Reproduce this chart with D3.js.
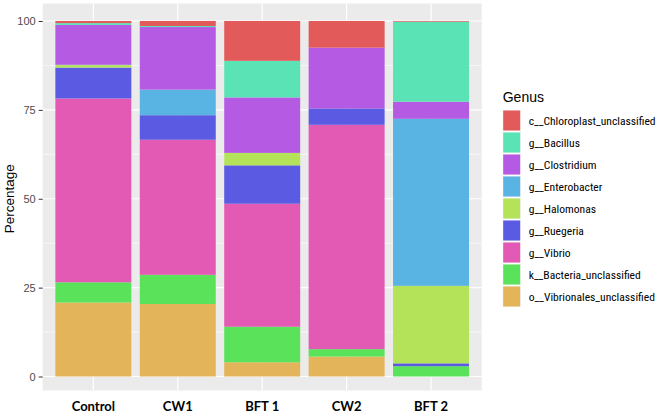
<!DOCTYPE html>
<html>
<head>
<meta charset="utf-8">
<script src="https://cdn.jsdelivr.net/npm/d3@7"></script>
<style>
  body { margin: 0; background: #fff; }
  svg { display: block; }
</style>
</head>
<body>
<div id="app"></div>
<script>
const width = 660,
      height = 413;

// samples along x
const samples = ["Control", "CW1", "BFT 1", "CW2", "BFT 2"];

// genus names, legend order (top of stack first)
const genera = [
    "c__Chloroplast_unclassified",
    "g__Bacillus",
    "g__Clostridium",
    "g__Enterobacter",
    "g__Halomonas",
    "g__Ruegeria",
    "g__Vibrio",
    "k__Bacteria_unclassified",
    "o__Vibrionales_unclassified"
];

// percentage per sample, one array per genus
const chloroplast = [0.6, 1.4, 11.2, 7.5, 0.2];
const bacillus    = [0.5, 0.3, 10.3, 0.0, 22.5];
const clostridium = [11.2, 17.6, 15.6, 17.1, 4.8];
const enterobacter = [0.1, 7.2, 0.0, 0.0, 47.0];
const halomonas   = [0.7, 0.0, 3.5, 0.0, 21.8];
const ruegeria    = [8.7, 6.9, 10.8, 4.6, 0.8];
const vibrio      = [51.7, 38.0, 34.6, 63.1, 0.0];
const bacteria    = [5.7, 8.2, 10.0, 2.1, 2.9];
const vibrionales = [20.8, 20.4, 4.0, 5.6, 0.0];

const yTicks = [0, 25, 50, 75, 100];

const colors = ["#E35A5A", "#5AE3B4", "#B45AE3", "#5AB4E3", "#B4E35A",
                "#5A5AE3", "#E35AB4", "#5AE35A", "#E3B45A"];

const seriesValues = [chloroplast, bacillus, clostridium, enterobacter, halomonas,
                      ruegeria, vibrio, bacteria, vibrionales];

// rows for d3.stack
const rows = samples.map((s, i) => {
    let row = {sample: s};
    genera.forEach((g, j) => { row[g] = seriesValues[j][i]; });
    return row;
});

const panel = {left: 42.7, right: 481.7, top: 3.5, bottom: 390.5};

const x = d3.scaleBand()
    .domain(samples)
    .range([panel.left, panel.right])
    .paddingInner(0.1)
    .paddingOuter(0.15);

const y = d3.scaleLinear()
    .domain([0, 100])
    .range([376.5, 21]);

const color = d3.scaleOrdinal().domain(genera).range(colors);

// bottom of the stack is the last legend entry
const stack = d3.stack().keys(genera.slice().reverse());
const layers = stack(rows);

const svg = d3.select("#app").append("svg")
    .attr("width", width)
    .attr("height", height);

// panel background
svg.append("rect")
    .attr("x", panel.left)
    .attr("y", panel.top)
    .attr("width", panel.right - panel.left)
    .attr("height", panel.bottom - panel.top)
    .attr("fill", "#EBEBEB");

// minor grid
const minor = [12.5, 37.5, 62.5, 87.5];
svg.append("g").selectAll("line")
    .data(minor)
    .join("line")
    .attr("x1", panel.left).attr("x2", panel.right)
    .attr("y1", d => y(d)).attr("y2", d => y(d))
    .attr("stroke", "#fff").attr("stroke-width", 0.6);

// major grid
svg.append("g").selectAll("line")
    .data(yTicks)
    .join("line")
    .attr("x1", panel.left).attr("x2", panel.right)
    .attr("y1", d => y(d)).attr("y2", d => y(d))
    .attr("stroke", "#fff").attr("stroke-width", 1.2);

svg.append("g").selectAll("line")
    .data(samples)
    .join("line")
    .attr("x1", d => x(d) + x.bandwidth() / 2)
    .attr("x2", d => x(d) + x.bandwidth() / 2)
    .attr("y1", panel.top).attr("y2", panel.bottom)
    .attr("stroke", "#fff").attr("stroke-width", 1.2);

// bars
svg.append("g").selectAll("g")
    .data(layers)
    .join("g")
    .attr("fill", d => color(d.key))
    .selectAll("rect")
    .data(d => d)
    .join("rect")
    .attr("x", d => x(d.data.sample))
    .attr("width", x.bandwidth())
    .attr("y", d => y(d[1]))
    .attr("height", d => Math.max(0, y(d[0]) - y(d[1])));

// y axis
const yAxis = svg.append("g")
    .attr("transform", `translate(${panel.left},0)`)
    .call(d3.axisLeft(y).tickValues(yTicks).tickSize(4).tickPadding(3));
yAxis.select(".domain").remove();
yAxis.selectAll(".tick line").attr("stroke", "#333").attr("stroke-width", 1);
yAxis.selectAll(".tick text")
    .attr("fill", "#4D4D4D")
    .style("font-family", "Liberation Sans, Arial, sans-serif")
    .style("font-size", "11px");

// x axis labels
const xAxis = svg.append("g")
    .attr("transform", `translate(0,${panel.bottom})`)
    .call(d3.axisBottom(x).tickSize(0).tickPadding(11));
xAxis.select(".domain").remove();
xAxis.selectAll(".tick text")
    .attr("dy", "0")
    .attr("fill", "#000")
    .style("font-family", "Lato, sans-serif")
    .style("font-weight", "bold")
    .style("font-size", "13px")
    .attr("y", 20);

// y title
svg.append("text")
    .attr("transform", `translate(14,${(y(0) + y(100)) / 2}) rotate(-90)`)
    .attr("text-anchor", "middle")
    .style("font-family", "Liberation Sans, Arial, sans-serif")
    .style("font-size", "13.5px")
    .attr("fill", "#000")
    .text("Percentage");

// legend
const legend = svg.append("g").attr("transform", "translate(502.7,0)");

legend.append("text")
    .attr("x", 0)
    .attr("y", 102)
    .style("font-family", "Liberation Sans, Arial, sans-serif")
    .style("font-size", "14px")
    .attr("fill", "#000")
    .text("Genus");

const item = legend.selectAll("g.item")
    .data(genera)
    .join("g")
    .attr("class", "item")
    .attr("transform", (d, i) => `translate(0,${110 + i * 22})`);

item.append("rect")
    .attr("width", 18)
    .attr("height", 21)
    .attr("fill", "#F2F2F2");

item.append("rect")
    .attr("x", 0.5)
    .attr("y", 0.5)
    .attr("width", 17)
    .attr("height", 20)
    .attr("fill", d => color(d));

item.append("text")
    .attr("x", 26)
    .attr("y", 11)
    .attr("dy", "0.35em")
    .style("font-family", "Liberation Sans Narrow, Roboto Condensed, Liberation Sans, sans-serif")
    .style("font-size", "11.6px")
    .attr("fill", "#000")
    .text(d => d);
</script>
</body>
</html>
